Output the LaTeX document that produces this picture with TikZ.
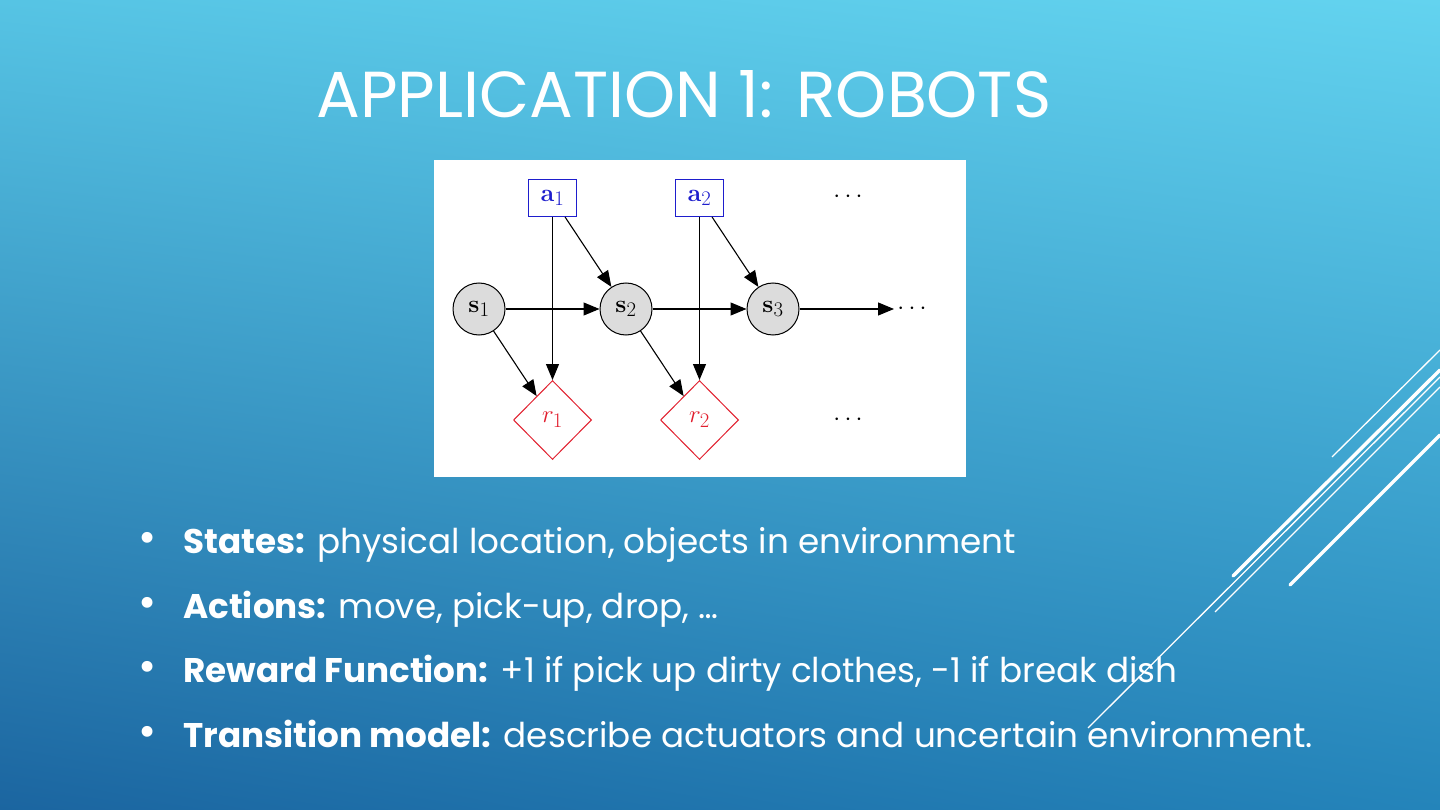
\documentclass[tikz,border=0pt]{standalone}
\usepackage[no-math]{fontspec}
\newfontfamily\slidefont{Poppins}
\usetikzlibrary{arrows.meta,shapes.geometric,shadings}
\definecolor{bgUL}{RGB}{86,196,228}
\definecolor{bgUR}{RGB}{99,211,239}
\definecolor{bgLL}{RGB}{27,101,160}
\definecolor{bgLR}{RGB}{36,132,186}
\definecolor{actblue}{RGB}{30,30,205}
\definecolor{rewred}{RGB}{225,30,45}
\definecolor{stategray}{RGB}{220,220,220}
\tikzset{
  gm/.style={font=\fontsize{29}{31}\selectfont},
  statenode/.style={gm,circle,draw=black,fill=stategray,line width=1pt,minimum size=52pt,inner sep=0pt},
  actnode/.style={gm,rectangle,draw=actblue,text=actblue,line width=1pt,minimum width=48pt,minimum height=37pt,inner sep=0pt},
  rewnode/.style={gm,diamond,draw=rewred,text=rewred,line width=1pt,minimum width=78pt,minimum height=79pt,inner sep=0pt},
  dotsnode/.style={gm,inner sep=2pt},
  edge/.style={line width=1.1pt,-{Triangle[length=16pt,width=13pt]}},
  titletext/.style={text=white,font=\slidefont\fontsize{65}{72}\selectfont,inner sep=0pt},
  bullettext/.style={text=white,font=\slidefont\fontsize{34.2}{40}\selectfont,inner sep=0pt},
  bulletmark/.style={text=white,font=\slidefont\fontsize{44}{48}\selectfont,inner sep=0pt},
  decothin/.style={draw=white,line width=1.3pt},
  decothick/.style={draw=white,line width=3.5pt,line cap=round},
}
\begin{document}
\begin{tikzpicture}[x=1pt,y=-1pt]
\useasboundingbox (0,0) rectangle (1440,810);
\shade[upper left=bgUL,upper right=bgUR,lower left=bgLL,lower right=bgLR] (0,0) rectangle (1440,810);
% decorative lines
\draw[decothin] (1332,457) -- (1440,350);
\draw[decothick] (1233,576) -- (1440,370);
\draw[decothin] (1088,728) -- (1440,377);
\draw[decothin] (1215,612) -- (1440,387);
\draw[decothick] (1290,585) -- (1440,435);
% title
\node[titletext,anchor=base west] (title) at (316,118) {APPLICATION 1: ROBOTS};
% diagram panel
\fill[white] (434,160) rectangle (966,477);
\node[statenode] (s1) at (479,309) {$\mathbf{s}_1$};
\node[statenode] (s2) at (626,309) {$\mathbf{s}_2$};
\node[statenode] (s3) at (773,309) {$\mathbf{s}_3$};
\node[actnode] (a1) at (552.5,198) {$\mathbf{a}_1$};
\node[actnode] (a2) at (699.5,198) {$\mathbf{a}_2$};
\node[rewnode] (r1) at (552.5,420) {$r_1$};
\node[rewnode] (r2) at (699.5,420) {$r_2$};
\node[dotsnode] (tdots) at (848,197) {$\cdots$};
\node[dotsnode] (bdots) at (848,420) {$\cdots$};
\node[dotsnode] (rdots) at (912,309) {$\cdots$};
\coordinate (rend) at (894,309);
\draw[edge] (a1) -- (r1);
\draw[edge] (a2) -- (r2);
\draw[edge] (s1) -- (s2);
\draw[edge] (s2) -- (s3);
\draw[edge] (s3) -- (rend);
\draw[edge] (a1) -- (s2);
\draw[edge] (a2) -- (s3);
\draw[edge] (s1) -- (r1);
\draw[edge] (s2) -- (r2);
% bullets
\node[bulletmark] (b1) at (147.5,542) {•};
\node[bulletmark] (b2) at (147.5,607) {•};
\node[bulletmark] (b3) at (147.5,671) {•};
\node[bulletmark] (b4) at (147.5,736) {•};
\node[bullettext,anchor=base west] (t1) at (183,553) {\textbf{States:} physical location, objects in environment};
\node[bullettext,anchor=base west] (t2) at (183,618) {\textbf{Actions:} move, pick-up, drop, …};
\node[bullettext,anchor=base west] (t3) at (183,682) {\textbf{Reward Function:} +1 if pick up dirty clothes, -1 if break dish};
\node[bullettext,anchor=base west] (t4) at (183,747) {\textbf{Transition model:} describe actuators and uncertain environment.};
\end{tikzpicture}
\end{document}
